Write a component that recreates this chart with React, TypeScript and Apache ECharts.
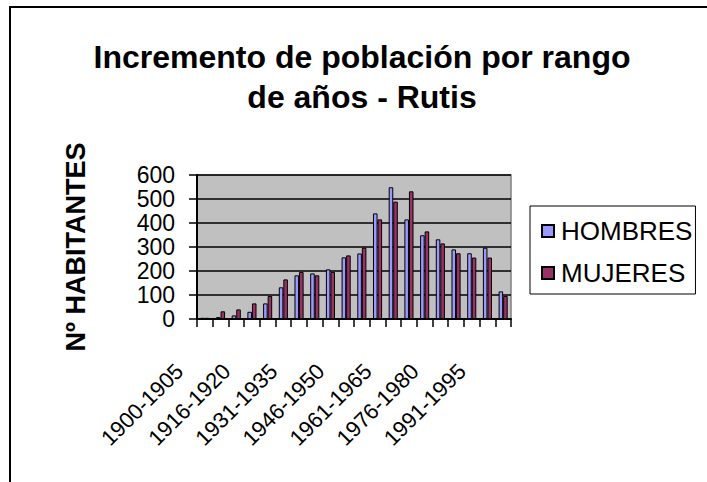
import React, { useEffect, useRef } from "react";
import * as echarts from "echarts";

const categories = [
  "1900-1905", "1906-1910", "1911-1915", "1916-1920", "1921-1925",
  "1926-1930", "1931-1935", "1936-1940", "1941-1945", "1946-1950",
  "1951-1955", "1956-1960", "1961-1965", "1966-1970", "1971-1975",
  "1976-1980", "1981-1985", "1986-1990", "1991-1995", "1996-2000",
];
const hombres = [5, 8, 15, 30, 65, 132, 182, 190, 207, 257, 273, 440, 549, 415, 349, 332, 290, 274, 297, 115];
const mujeres = [5, 32, 40, 65, 96, 165, 196, 182, 196, 265, 297, 415, 489, 532, 365, 315, 274, 256, 256, 96];
const seriesNames = ["HOMBRES", "MUJERES"];
const titleText = "Incremento de población por rango\nde años - Rutis";
const yAxisName = "Nº HABITANTES";

const FONT = "'Liberation Sans', Arial, sans-serif";

export default function App() {
  const ref = useRef<HTMLDivElement>(null);
  useEffect(() => {
    document.body.style.margin = "0";
    if (!ref.current) return;
    const chart = echarts.init(ref.current, null, { renderer: "svg" });
    chart.setOption({
      animation: false,
      backgroundColor: "#ffffff",
      textStyle: { fontFamily: FONT, color: "#000" },
      graphic: [
        {
          type: "text",
          x: 362,
          y: 37,
          style: {
            text: titleText,
            textAlign: "center",
            textVerticalAlign: "top",
            font: `bold 32px ${FONT}`,
            fill: "#000",
            lineHeight: 40,
          },
          silent: true,
        },
        {
          type: "rect",
          shape: { x: 10, y: 7, width: 800, height: 600 },
          style: { fill: "none", stroke: "#000", lineWidth: 2 },
          silent: true,
          z: 100,
        },
      ],
      legend: {
        orient: "vertical",
        left: 530,
        top: 206,
        padding: [12, 3, 8, 11],
        itemGap: 16,
        itemWidth: 12,
        itemHeight: 12,
        borderColor: "#000",
        borderWidth: 1,
        backgroundColor: "#fff",
        icon: "rect",
        textStyle: { fontFamily: FONT, fontSize: 26, color: "#000", padding: [0, 0, 0, 2] },
        data: seriesNames,
      },
      grid: {
        left: 197,
        top: 175,
        right: 196,
        bottom: 163,
        show: true,
        backgroundColor: "#c0c0c0",
        borderColor: "#808080",
        borderWidth: 1.5,
      },
      xAxis: {
        type: "category",
        data: categories,
        boundaryGap: true,
        axisLine: { show: true, lineStyle: { color: "#000", width: 2 } },
        axisTick: { show: true, length: 8, alignWithLabel: false, interval: 0, lineStyle: { color: "#000", width: 1.5 } },
        axisLabel: {
          interval: 2,
          rotate: 45,
          margin: 23,
          padding: [0, 36, 0, 0],
          fontFamily: FONT,
          fontSize: 22,
          color: "#000",
        },
        splitLine: { show: false },
      },
      yAxis: {
        type: "value",
        min: 0,
        max: 600,
        interval: 100,
        name: yAxisName,
        nameLocation: "middle",
        nameRotate: 90,
        nameGap: 108,
        nameTextStyle: { fontFamily: FONT, fontSize: 27, fontWeight: "bold", color: "#000" },
        axisLine: { show: true, lineStyle: { color: "#000", width: 2 } },
        axisTick: { show: true, length: 8, lineStyle: { color: "#000", width: 1.5 } },
        axisLabel: { margin: 22, fontFamily: FONT, fontSize: 23, lineHeight: 20, color: "#000" },
        splitLine: { show: true, lineStyle: { color: "#000", width: 1.5 } },
      },
      series: [
        {
          name: seriesNames[0],
          type: "bar",
          data: hombres,
          barGap: "0%",
          barCategoryGap: "42%",
          itemStyle: { color: "#9999ff", borderColor: "#000", borderWidth: 1 },
        },
        {
          name: seriesNames[1],
          type: "bar",
          data: mujeres,
          itemStyle: { color: "#993366", borderColor: "#000", borderWidth: 1 },
        },
      ],
    });
    return () => chart.dispose();
  }, []);
  return <div ref={ref} style={{ position: "fixed", left: 0, top: 0, width: 707, height: 482 }} />;
}
